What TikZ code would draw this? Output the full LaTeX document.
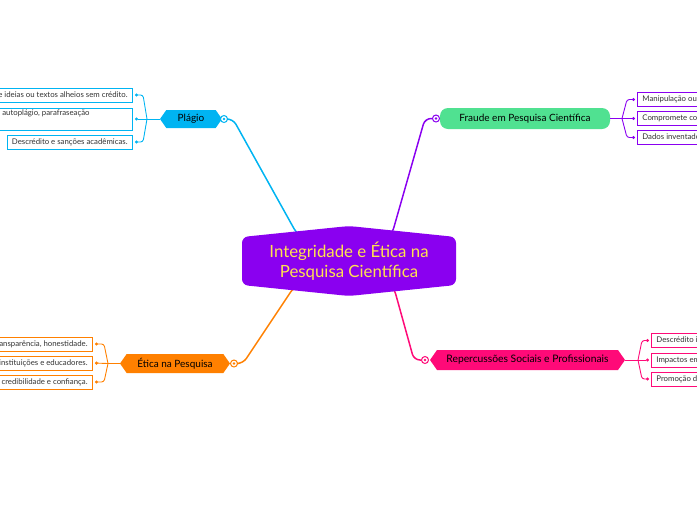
\documentclass[tikz,border=0pt]{standalone}
\usepackage{fontspec}
\setmainfont{Lato}
\usetikzlibrary{shapes.symbols,arrows.meta}
\definecolor{rootpurple}{HTML}{8A00F0}
\definecolor{rootyellow}{HTML}{FFE150}
\definecolor{plagcyan}{HTML}{00B4F2}
\definecolor{fraudgreen}{HTML}{50E191}
\definecolor{eticaorange}{HTML}{FF8000}
\definecolor{reppink}{HTML}{FF0A78}
\definecolor{leafgray}{HTML}{333333}
\begin{document}
\begin{tikzpicture}[x=1pt, y=-1pt,
  leaf/.style={draw, fill=white, line width=0.8pt, font=\fontsize{7.8}{9}\selectfont, text=leafgray, inner xsep=5pt, inner ysep=2pt, minimum height=14pt, text height=5.5pt, text depth=1.5pt},
  topic/.style={signal, signal to=west and east, signal pointer angle=110, font=\fontsize{10}{11}\selectfont, inner sep=0pt},
  knob/.style={circle, draw=#1, fill=white, line width=1pt, minimum size=7pt, inner sep=0pt, path picture={\fill[#1] (path picture bounding box.center) circle (1.3pt);}},
  link/.style={line width=1.5pt, rounded corners=6pt},
  trunk/.style={line width=0.9pt},
  twig/.style={line width=0.9pt, rounded corners=2.5pt, -{Circle[length=3pt]}, shorten >=2pt}]
\useasboundingbox (0,0) rectangle (697,520);
\clip (0,0) rectangle (697,520);
\coordinate (root) at (349,261);
% main topics
\node[topic, fill=plagcyan, minimum width=62pt, minimum height=18pt] (plagio) at (191,119) {Plágio};
\node[knob=plagcyan] (kp) at (224,119) {};
\draw[link, plagcyan] (kp.east) -- (233,119) -- (297,234) -- (root);
\node[fill=fraudgreen, rounded corners=8pt, minimum width=170pt, minimum height=21pt, font=\fontsize{10}{11}\selectfont] (fraude) at (525,118.5) {Fraude em Pesquisa Científica};
\node[knob=rootpurple] (kf) at (436,118.5) {};
\draw[link, rootpurple] (kf.west) -- (425,118.5) -- (392,234) -- (root);
\node[topic, fill=eticaorange, minimum width=110pt, minimum height=19pt] (etica) at (175,363.5) {Ética na Pesquisa};
\node[knob=eticaorange] (ke) at (234,363.5) {};
\draw[link, eticaorange] (ke.east) -- (243,363.5) -- (294,287) -- (root);
\node[topic, fill=reppink, minimum width=195pt, minimum height=20pt, font=\fontsize{10.3}{11}\selectfont] (reperc) at (527.5,360) {Repercussões Sociais e Profissionais};
\node[knob=reppink] (kr) at (425,360) {};
\draw[link, reppink] (kr.west) -- (414,360) -- (394,288) -- (root);
% central idea
\fill[rootpurple, rounded corners=6pt] (242,237) -- (349,226) -- (456,237) -- (456,285) -- (349,296) -- (242,285) -- cycle;
\node[align=center, text=rootyellow, font=\fontsize{16.8}{19.5}\selectfont] (rootlabel) at (root) {Integridade e Ética na\\Pesquisa Científica};
% Plagio leaves
\node[leaf, draw=plagcyan, anchor=east] (pl1) at (133,95) {Uso de ideias ou textos alheios sem crédito.};
\node[leaf, draw=plagcyan, anchor=east, minimum height=22pt, text depth=13pt, text height=5pt] (pl2) at (133,119) {Tipos: plágio direto, autoplágio, parafraseação\hspace*{38pt}};
\node[leaf, draw=plagcyan, anchor=east] (pl3) at (133,142) {Descrédito e sanções acadêmicas.};
\coordinate (pj) at (147,119);
\draw[trunk, plagcyan] (plagio.west) -- (pj);
\draw[twig, plagcyan] (pj) -- (143,95) -- (pl1.east);
\draw[twig, plagcyan] (pj) -- (pl2.east);
\draw[twig, plagcyan] (pj) -- (143,142) -- (pl3.east);
% Fraude leaves
\node[leaf, draw=rootpurple, anchor=west] (fr1) at (637,99.5) {Manipulação ou falsificação de resultados.};
\node[leaf, draw=rootpurple, anchor=west] (fr2) at (637,118.5) {Compromete confiança na ciência.};
\node[leaf, draw=rootpurple, anchor=west] (fr3) at (637,137.5) {Dados inventados ou alterados.};
\coordinate (fj) at (622,118.5);
\draw[trunk, rootpurple] (fraude.east) -- (fj);
\draw[twig, rootpurple] (fj) -- (627,99.5) -- (fr1.west);
\draw[twig, rootpurple] (fj) -- (fr2.west);
\draw[twig, rootpurple] (fj) -- (627,137.5) -- (fr3.west);
% Etica leaves
\node[leaf, draw=eticaorange, anchor=east] (et1) at (93,344) {Transparência, honestidade.};
\node[leaf, draw=eticaorange, anchor=east] (et2) at (93,363) {Responsabilidade de instituições e educadores.};
\node[leaf, draw=eticaorange, anchor=east] (et3) at (93,382) {Preservação da credibilidade e confiança.};
\coordinate (ej) at (108,363.5);
\draw[trunk, eticaorange] (etica.west) -- (ej);
\draw[twig, eticaorange] (ej) -- (104,344) -- (et1.east);
\draw[twig, eticaorange] (ej) -- (et2.east);
\draw[twig, eticaorange] (ej) -- (104,382) -- (et3.east);
% Repercussoes leaves
\node[leaf, draw=reppink, anchor=west] (re1) at (651,340.5) {Descrédito institucional.};
\node[leaf, draw=reppink, anchor=west] (re2) at (651,360) {Impactos em políticas públicas.};
\node[leaf, draw=reppink, anchor=west] (re3) at (651,379) {Promoção de boas práticas.};
\coordinate (rj) at (638,360);
\draw[trunk, reppink] (reperc.east) -- (rj);
\draw[twig, reppink] (rj) -- (642,340.5) -- (re1.west);
\draw[twig, reppink] (rj) -- (re2.west);
\draw[twig, reppink] (rj) -- (642,379) -- (re3.west);
\end{tikzpicture}
\end{document}
